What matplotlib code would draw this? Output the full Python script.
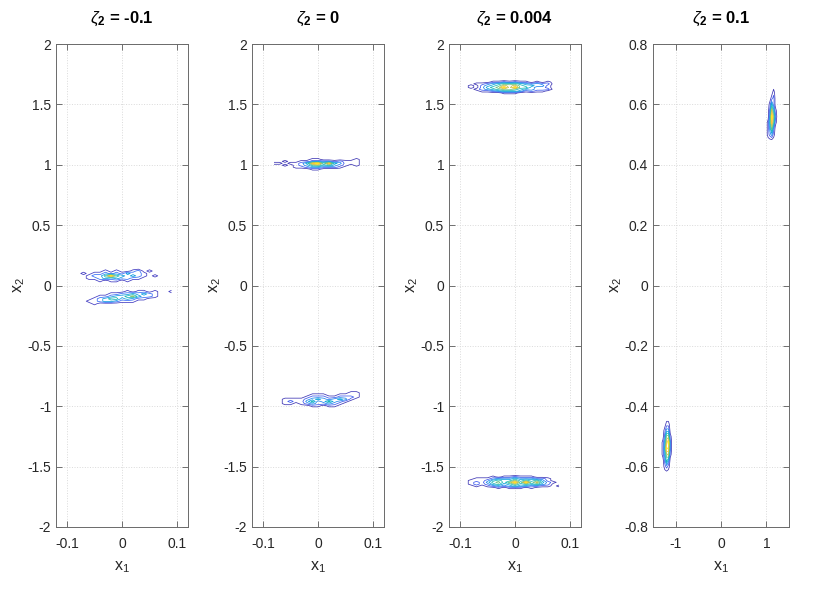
import numpy as np
import matplotlib.pyplot as plt
from matplotlib.colors import LinearSegmentedColormap, Normalize

plt.rcParams['font.family'] = ['Liberation Sans', 'DejaVu Sans']
plt.rcParams['mathtext.fontset'] = 'custom'
plt.rcParams['mathtext.rm'] = 'Liberation Sans'
plt.rcParams['mathtext.it'] = 'Liberation Sans:italic'
plt.rcParams['mathtext.bf'] = 'Liberation Sans:bold'

zeta2 = ['-0.1', '0', '0.004', '0.1']

# counts, one digit per histogram cell, rows top to bottom
# (x of first column, column step), (y of top row, row step)
z1_up_x, z1_up_y = (-0.08, 0.01), (0.14, 0.02)
z1_up = ["0000000000000000",
         "0000010100120100",
         "0101121213221000",
         "0012247432321010",
         "0011232322110000",
         "0000101101000000",
         "0000000000000000"]

z1_lo_x, z1_lo_y = (-0.08, 0.01), (-0.03, 0.02)
z1_lo = ["000000000000000000",
         "000000000101101001",
         "000000112232321000",
         "000011233453221000",
         "000123442321100000",
         "001123321110000000",
         "000100000000000000",
         "000000000000000000"]

z2_up_x, z2_up_y = (-0.08, 0.01), (1.06, 0.016)
z2_up = ["00000000000000000",
         "00000001100000010",
         "00100112222121110",
         "11011248958431110",
         "00101235645321010",
         "00001123322210000",
         "00000001100000000",
         "00000000000000000"]

z2_lo_x, z2_lo_y = (-0.07, 0.01), (-0.87, 0.018)
z2_lo = ["0000000000000000",
         "0000000000000110",
         "0000001110011110",
         "0000012221122210",
         "0111123432343100",
         "0121135235321000",
         "0110123223210000",
         "0000001101100000",
         "0000000000000000"]

z3_up_x, z3_up_y = (-0.09, 0.01), (1.70, 0.015)
z3_up = ["00000000000000000",
         "00000112121101010",
         "00112345554323220",
         "01023457675443310",
         "01024569695532210",
         "00123456654332220",
         "00011234443121100",
         "00000001110000000",
         "00000000000000000"]

z3_lo_x, z3_lo_y = (-0.09, 0.01), (-1.57, 0.015)
z3_lo = ["000000000000000000",
         "000001011211100000",
         "001112333433322100",
         "011124544645453100",
         "012135646959574210",
         "012124534645453200",
         "001012323433221101",
         "000000101110100000",
         "000000000000000000"]

z4_up_x, z4_up_y = (1.00, 0.04), (0.66, 0.02)
z4_up = ["00000000",
         "00001000",
         "00012000",
         "00142000",
         "00274100",
         "00396200",
         "01485100",
         "01362000",
         "01231000",
         "00000000",
         "00000000"]

z4_lo_x, z4_lo_y = (-1.32, 0.04), (-0.44, 0.02)
z4_lo = ["00000000",
         "00011000",
         "00133000",
         "00266100",
         "01379200",
         "01498200",
         "01367100",
         "00253000",
         "00121000",
         "00000000",
         "00000000"]

panels = [[(z1_up, z1_up_x, z1_up_y), (z1_lo, z1_lo_x, z1_lo_y)],
          [(z2_up, z2_up_x, z2_up_y), (z2_lo, z2_lo_x, z2_lo_y)],
          [(z3_up, z3_up_x, z3_up_y), (z3_lo, z3_lo_x, z3_lo_y)],
          [(z4_up, z4_up_x, z4_up_y), (z4_lo, z4_lo_x, z4_lo_y)]]

xlims = [(-0.12, 0.12)] * 3 + [(-1.5, 1.5)]
ylims = [(-2, 2)] * 3 + [(-0.8, 0.8)]
xticks = [[-0.1, 0, 0.1]] * 3 + [[-1, 0, 1]]
yticks = [np.arange(-2, 2.01, 0.5)] * 3 + [np.arange(-0.8, 0.81, 0.2)]
yticklabels = [['-2', '-1.5', '-1', '-0.5', '0', '0.5', '1', '1.5', '2']] * 3 + \
              [['-0.8', '-0.6', '-0.4', '-0.2', '0', '0.2', '0.4', '0.6', '0.8']]
xticklabels = [['-0.1', '0', '0.1']] * 3 + [['-1', '0', '1']]

parula = LinearSegmentedColormap.from_list('parula', [
    (0.0, (0.208, 0.166, 0.529)),
    (0.1, (0.271, 0.251, 0.851)),
    (0.2, (0.220, 0.408, 0.980)),
    (0.3, (0.078, 0.550, 0.910)),
    (0.4, (0.040, 0.655, 0.850)),
    (0.5, (0.100, 0.725, 0.720)),
    (0.6, (0.380, 0.760, 0.540)),
    (0.7, (0.680, 0.760, 0.330)),
    (0.8, (0.960, 0.740, 0.240)),
    (0.9, (0.990, 0.840, 0.170)),
    (1.0, (0.976, 0.983, 0.054))])


def to_grid(rows, xs, ys):
    z = np.array([[int(c) for c in r] for r in rows], dtype=float)[::-1]
    n, m = z.shape
    x = xs[0] + xs[1] * np.arange(m)
    y = ys[0] - ys[1] * (n - 1 - np.arange(n))
    return x, y, z


fig = plt.figure(figsize=(8.3, 5.9), dpi=100)
lefts = [56, 252, 449, 653]
widths = [132, 132, 132, 136]
bottom = (590 - 527) / 590
height = (527 - 44) / 590

for i in range(4):
    ax = fig.add_axes([lefts[i] / 830, bottom, widths[i] / 830, height])
    grids = [to_grid(*c) for c in panels[i]]
    zmax = max(g[2].max() for g in grids)
    levels = np.arange(0.5, zmax, 1.0)
    norm = Normalize(vmin=0, vmax=zmax)
    for x, y, z in grids:
        ax.contour(x, y, z, levels=levels, cmap=parula, norm=norm, linewidths=0.55)

    ax.set_xlim(xlims[i])
    ax.set_ylim(ylims[i])
    ax.set_xticks(xticks[i])
    ax.set_xticklabels(xticklabels[i])
    ax.set_yticks(yticks[i])
    ax.set_yticklabels(yticklabels[i])
    ax.grid(True, linestyle=':', color='#dadada', linewidth=0.7)
    ax.tick_params(direction='in', top=True, right=True, length=4, width=0.6,
                   labelsize=10, colors='#5a5a5a', labelcolor='#262626')
    ax.tick_params(axis='x', pad=7)
    for s in ax.spines.values():
        s.set_color('#6a6a6a')
        s.set_linewidth(0.7)
    ax.set_xlabel(r'x$_1$', fontsize=11.5, color='#262626', labelpad=6)
    ax.set_ylabel(r'x$_2$', fontsize=11.5, color='#262626', labelpad=0)
    ax.set_title(r'$\zeta_\mathbf{2}$ = ' + zeta2[i], fontsize=12,
                 fontweight='bold', pad=15)

fig.savefig('out.png', dpi=100)
